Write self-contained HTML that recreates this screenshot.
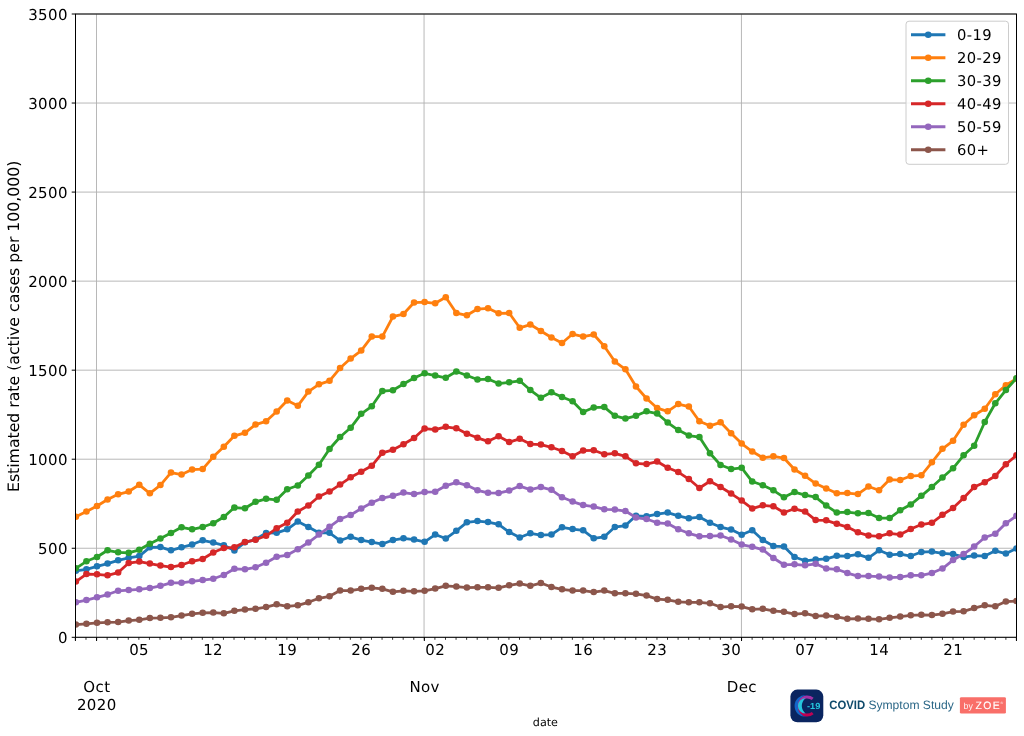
<!DOCTYPE html>
<html lang="en"><head><meta charset="utf-8"><title>Estimated rate by age group</title>
<style>html,body{margin:0;padding:0;background:#fff;}body{width:1024px;height:736px;overflow:hidden;}svg{display:block;}text{font-family:"DejaVu Sans","Liberation Sans",sans-serif;fill:#000;text-rendering:geometricPrecision;}.t{font-size:15.00px;letter-spacing:0.4px;}.logo{font-family:"Liberation Sans","DejaVu Sans",sans-serif;}</style></head><body>
<svg width="1024" height="736" viewBox="0 0 1024 736">
<rect x="0" y="0" width="1024" height="736" fill="#ffffff"/>
<g stroke="#b0b0b0" stroke-width="0.9" fill="none">
<line x1="75.42" x2="1016.45" y1="637.30" y2="637.30"/>
<line x1="75.42" x2="1016.45" y1="548.26" y2="548.26"/>
<line x1="75.42" x2="1016.45" y1="459.21" y2="459.21"/>
<line x1="75.42" x2="1016.45" y1="370.17" y2="370.17"/>
<line x1="75.42" x2="1016.45" y1="281.13" y2="281.13"/>
<line x1="75.42" x2="1016.45" y1="192.09" y2="192.09"/>
<line x1="75.42" x2="1016.45" y1="103.04" y2="103.04"/>
<line x1="75.42" x2="1016.45" y1="14.00" y2="14.00"/>
<line x1="96.50" x2="96.50" y1="14.00" y2="637.30"/>
<line x1="424.05" x2="424.05" y1="14.00" y2="637.30"/>
<line x1="741.45" x2="741.45" y1="14.00" y2="637.30"/>
</g>
<defs><clipPath id="ax"><rect x="75.42" y="14.00" width="941.03" height="623.30"/></clipPath></defs>
<g clip-path="url(#ax)">
<g fill="#1f77b4" stroke="none">
<polyline points="75.87,570.80 86.44,569.30 97.01,566.30 107.57,563.55 118.14,560.30 128.71,557.80 139.28,556.05 149.85,547.30 160.42,547.05 170.98,550.30 181.55,547.30 192.12,544.55 202.69,540.30 213.26,542.55 223.83,545.30 234.39,550.55 244.96,542.30 255.53,539.55 266.10,533.05 276.67,532.80 287.24,529.30 297.80,521.55 308.37,527.05 318.94,532.80 329.51,532.80 340.08,540.55 350.65,536.80 361.21,540.05 371.78,542.05 382.35,544.05 392.92,540.05 403.49,538.30 414.06,539.55 424.62,541.80 435.19,534.55 445.76,538.55 456.33,530.80 466.90,522.30 477.47,521.05 488.03,522.05 498.60,524.30 509.17,532.05 519.74,537.55 530.31,533.30 540.88,535.05 551.44,534.55 562.01,527.30 572.58,529.05 583.15,530.30 593.72,538.30 604.29,536.80 614.85,527.05 625.42,525.55 635.99,515.80 646.56,516.30 657.13,514.05 667.70,512.55 678.26,515.80 688.83,518.30 699.40,517.05 709.97,522.80 720.54,527.05 731.11,529.55 741.67,534.80 752.24,530.30 762.81,540.05 773.38,546.05 783.95,546.55 794.52,557.05 805.08,560.80 815.65,559.55 826.22,558.80 836.79,555.80 847.36,556.05 857.93,554.30 868.49,557.80 879.06,550.30 889.63,554.80 900.20,554.05 910.77,556.05 921.34,552.05 931.90,551.55 942.47,553.30 953.04,554.05 963.61,557.05 974.18,555.55 984.75,556.05 995.31,550.80 1005.88,553.55 1016.45,548.55" fill="none" stroke="#1f77b4" stroke-width="2.80" stroke-linejoin="round" stroke-linecap="butt"/>
<circle cx="75.87" cy="570.80" r="3.30"/>
<circle cx="86.44" cy="569.30" r="3.30"/>
<circle cx="97.01" cy="566.30" r="3.30"/>
<circle cx="107.57" cy="563.55" r="3.30"/>
<circle cx="118.14" cy="560.30" r="3.30"/>
<circle cx="128.71" cy="557.80" r="3.30"/>
<circle cx="139.28" cy="556.05" r="3.30"/>
<circle cx="149.85" cy="547.30" r="3.30"/>
<circle cx="160.42" cy="547.05" r="3.30"/>
<circle cx="170.98" cy="550.30" r="3.30"/>
<circle cx="181.55" cy="547.30" r="3.30"/>
<circle cx="192.12" cy="544.55" r="3.30"/>
<circle cx="202.69" cy="540.30" r="3.30"/>
<circle cx="213.26" cy="542.55" r="3.30"/>
<circle cx="223.83" cy="545.30" r="3.30"/>
<circle cx="234.39" cy="550.55" r="3.30"/>
<circle cx="244.96" cy="542.30" r="3.30"/>
<circle cx="255.53" cy="539.55" r="3.30"/>
<circle cx="266.10" cy="533.05" r="3.30"/>
<circle cx="276.67" cy="532.80" r="3.30"/>
<circle cx="287.24" cy="529.30" r="3.30"/>
<circle cx="297.80" cy="521.55" r="3.30"/>
<circle cx="308.37" cy="527.05" r="3.30"/>
<circle cx="318.94" cy="532.80" r="3.30"/>
<circle cx="329.51" cy="532.80" r="3.30"/>
<circle cx="340.08" cy="540.55" r="3.30"/>
<circle cx="350.65" cy="536.80" r="3.30"/>
<circle cx="361.21" cy="540.05" r="3.30"/>
<circle cx="371.78" cy="542.05" r="3.30"/>
<circle cx="382.35" cy="544.05" r="3.30"/>
<circle cx="392.92" cy="540.05" r="3.30"/>
<circle cx="403.49" cy="538.30" r="3.30"/>
<circle cx="414.06" cy="539.55" r="3.30"/>
<circle cx="424.62" cy="541.80" r="3.30"/>
<circle cx="435.19" cy="534.55" r="3.30"/>
<circle cx="445.76" cy="538.55" r="3.30"/>
<circle cx="456.33" cy="530.80" r="3.30"/>
<circle cx="466.90" cy="522.30" r="3.30"/>
<circle cx="477.47" cy="521.05" r="3.30"/>
<circle cx="488.03" cy="522.05" r="3.30"/>
<circle cx="498.60" cy="524.30" r="3.30"/>
<circle cx="509.17" cy="532.05" r="3.30"/>
<circle cx="519.74" cy="537.55" r="3.30"/>
<circle cx="530.31" cy="533.30" r="3.30"/>
<circle cx="540.88" cy="535.05" r="3.30"/>
<circle cx="551.44" cy="534.55" r="3.30"/>
<circle cx="562.01" cy="527.30" r="3.30"/>
<circle cx="572.58" cy="529.05" r="3.30"/>
<circle cx="583.15" cy="530.30" r="3.30"/>
<circle cx="593.72" cy="538.30" r="3.30"/>
<circle cx="604.29" cy="536.80" r="3.30"/>
<circle cx="614.85" cy="527.05" r="3.30"/>
<circle cx="625.42" cy="525.55" r="3.30"/>
<circle cx="635.99" cy="515.80" r="3.30"/>
<circle cx="646.56" cy="516.30" r="3.30"/>
<circle cx="657.13" cy="514.05" r="3.30"/>
<circle cx="667.70" cy="512.55" r="3.30"/>
<circle cx="678.26" cy="515.80" r="3.30"/>
<circle cx="688.83" cy="518.30" r="3.30"/>
<circle cx="699.40" cy="517.05" r="3.30"/>
<circle cx="709.97" cy="522.80" r="3.30"/>
<circle cx="720.54" cy="527.05" r="3.30"/>
<circle cx="731.11" cy="529.55" r="3.30"/>
<circle cx="741.67" cy="534.80" r="3.30"/>
<circle cx="752.24" cy="530.30" r="3.30"/>
<circle cx="762.81" cy="540.05" r="3.30"/>
<circle cx="773.38" cy="546.05" r="3.30"/>
<circle cx="783.95" cy="546.55" r="3.30"/>
<circle cx="794.52" cy="557.05" r="3.30"/>
<circle cx="805.08" cy="560.80" r="3.30"/>
<circle cx="815.65" cy="559.55" r="3.30"/>
<circle cx="826.22" cy="558.80" r="3.30"/>
<circle cx="836.79" cy="555.80" r="3.30"/>
<circle cx="847.36" cy="556.05" r="3.30"/>
<circle cx="857.93" cy="554.30" r="3.30"/>
<circle cx="868.49" cy="557.80" r="3.30"/>
<circle cx="879.06" cy="550.30" r="3.30"/>
<circle cx="889.63" cy="554.80" r="3.30"/>
<circle cx="900.20" cy="554.05" r="3.30"/>
<circle cx="910.77" cy="556.05" r="3.30"/>
<circle cx="921.34" cy="552.05" r="3.30"/>
<circle cx="931.90" cy="551.55" r="3.30"/>
<circle cx="942.47" cy="553.30" r="3.30"/>
<circle cx="953.04" cy="554.05" r="3.30"/>
<circle cx="963.61" cy="557.05" r="3.30"/>
<circle cx="974.18" cy="555.55" r="3.30"/>
<circle cx="984.75" cy="556.05" r="3.30"/>
<circle cx="995.31" cy="550.80" r="3.30"/>
<circle cx="1005.88" cy="553.55" r="3.30"/>
<circle cx="1016.45" cy="548.55" r="3.30"/>
</g>
<g fill="#ff7f0e" stroke="none">
<polyline points="75.87,516.80 86.44,511.55 97.01,506.05 107.57,499.55 118.14,494.30 128.71,491.55 139.28,484.80 149.85,493.30 160.42,485.05 170.98,472.55 181.55,474.55 192.12,469.55 202.69,469.05 213.26,456.80 223.83,446.80 234.39,435.80 244.96,432.80 255.53,424.55 266.10,421.30 276.67,411.55 287.24,400.55 297.80,405.80 308.37,391.55 318.94,384.30 329.51,380.80 340.08,368.05 350.65,358.55 361.21,350.55 371.78,336.55 382.35,336.55 392.92,316.55 403.49,314.05 414.06,302.55 424.62,302.05 435.19,303.30 445.76,297.30 456.33,313.05 466.90,315.30 477.47,309.05 488.03,308.30 498.60,313.30 509.17,313.05 519.74,327.80 530.31,324.55 540.88,331.05 551.44,337.55 562.01,343.05 572.58,334.05 583.15,336.55 593.72,334.55 604.29,346.30 614.85,361.55 625.42,369.30 635.99,386.55 646.56,398.55 657.13,408.05 667.70,411.30 678.26,404.05 688.83,406.55 699.40,421.30 709.97,425.80 720.54,422.30 731.11,433.30 741.67,443.55 752.24,451.55 762.81,457.80 773.38,456.30 783.95,458.05 794.52,469.55 805.08,475.80 815.65,483.55 826.22,488.55 836.79,493.30 847.36,493.05 857.93,494.05 868.49,486.55 879.06,490.30 889.63,479.55 900.20,480.05 910.77,476.05 921.34,475.30 931.90,462.30 942.47,448.80 953.04,440.80 963.61,424.80 974.18,415.30 984.75,408.80 995.31,394.30 1005.88,385.30 1016.45,378.80" fill="none" stroke="#ff7f0e" stroke-width="2.80" stroke-linejoin="round" stroke-linecap="butt"/>
<circle cx="75.87" cy="516.80" r="3.30"/>
<circle cx="86.44" cy="511.55" r="3.30"/>
<circle cx="97.01" cy="506.05" r="3.30"/>
<circle cx="107.57" cy="499.55" r="3.30"/>
<circle cx="118.14" cy="494.30" r="3.30"/>
<circle cx="128.71" cy="491.55" r="3.30"/>
<circle cx="139.28" cy="484.80" r="3.30"/>
<circle cx="149.85" cy="493.30" r="3.30"/>
<circle cx="160.42" cy="485.05" r="3.30"/>
<circle cx="170.98" cy="472.55" r="3.30"/>
<circle cx="181.55" cy="474.55" r="3.30"/>
<circle cx="192.12" cy="469.55" r="3.30"/>
<circle cx="202.69" cy="469.05" r="3.30"/>
<circle cx="213.26" cy="456.80" r="3.30"/>
<circle cx="223.83" cy="446.80" r="3.30"/>
<circle cx="234.39" cy="435.80" r="3.30"/>
<circle cx="244.96" cy="432.80" r="3.30"/>
<circle cx="255.53" cy="424.55" r="3.30"/>
<circle cx="266.10" cy="421.30" r="3.30"/>
<circle cx="276.67" cy="411.55" r="3.30"/>
<circle cx="287.24" cy="400.55" r="3.30"/>
<circle cx="297.80" cy="405.80" r="3.30"/>
<circle cx="308.37" cy="391.55" r="3.30"/>
<circle cx="318.94" cy="384.30" r="3.30"/>
<circle cx="329.51" cy="380.80" r="3.30"/>
<circle cx="340.08" cy="368.05" r="3.30"/>
<circle cx="350.65" cy="358.55" r="3.30"/>
<circle cx="361.21" cy="350.55" r="3.30"/>
<circle cx="371.78" cy="336.55" r="3.30"/>
<circle cx="382.35" cy="336.55" r="3.30"/>
<circle cx="392.92" cy="316.55" r="3.30"/>
<circle cx="403.49" cy="314.05" r="3.30"/>
<circle cx="414.06" cy="302.55" r="3.30"/>
<circle cx="424.62" cy="302.05" r="3.30"/>
<circle cx="435.19" cy="303.30" r="3.30"/>
<circle cx="445.76" cy="297.30" r="3.30"/>
<circle cx="456.33" cy="313.05" r="3.30"/>
<circle cx="466.90" cy="315.30" r="3.30"/>
<circle cx="477.47" cy="309.05" r="3.30"/>
<circle cx="488.03" cy="308.30" r="3.30"/>
<circle cx="498.60" cy="313.30" r="3.30"/>
<circle cx="509.17" cy="313.05" r="3.30"/>
<circle cx="519.74" cy="327.80" r="3.30"/>
<circle cx="530.31" cy="324.55" r="3.30"/>
<circle cx="540.88" cy="331.05" r="3.30"/>
<circle cx="551.44" cy="337.55" r="3.30"/>
<circle cx="562.01" cy="343.05" r="3.30"/>
<circle cx="572.58" cy="334.05" r="3.30"/>
<circle cx="583.15" cy="336.55" r="3.30"/>
<circle cx="593.72" cy="334.55" r="3.30"/>
<circle cx="604.29" cy="346.30" r="3.30"/>
<circle cx="614.85" cy="361.55" r="3.30"/>
<circle cx="625.42" cy="369.30" r="3.30"/>
<circle cx="635.99" cy="386.55" r="3.30"/>
<circle cx="646.56" cy="398.55" r="3.30"/>
<circle cx="657.13" cy="408.05" r="3.30"/>
<circle cx="667.70" cy="411.30" r="3.30"/>
<circle cx="678.26" cy="404.05" r="3.30"/>
<circle cx="688.83" cy="406.55" r="3.30"/>
<circle cx="699.40" cy="421.30" r="3.30"/>
<circle cx="709.97" cy="425.80" r="3.30"/>
<circle cx="720.54" cy="422.30" r="3.30"/>
<circle cx="731.11" cy="433.30" r="3.30"/>
<circle cx="741.67" cy="443.55" r="3.30"/>
<circle cx="752.24" cy="451.55" r="3.30"/>
<circle cx="762.81" cy="457.80" r="3.30"/>
<circle cx="773.38" cy="456.30" r="3.30"/>
<circle cx="783.95" cy="458.05" r="3.30"/>
<circle cx="794.52" cy="469.55" r="3.30"/>
<circle cx="805.08" cy="475.80" r="3.30"/>
<circle cx="815.65" cy="483.55" r="3.30"/>
<circle cx="826.22" cy="488.55" r="3.30"/>
<circle cx="836.79" cy="493.30" r="3.30"/>
<circle cx="847.36" cy="493.05" r="3.30"/>
<circle cx="857.93" cy="494.05" r="3.30"/>
<circle cx="868.49" cy="486.55" r="3.30"/>
<circle cx="879.06" cy="490.30" r="3.30"/>
<circle cx="889.63" cy="479.55" r="3.30"/>
<circle cx="900.20" cy="480.05" r="3.30"/>
<circle cx="910.77" cy="476.05" r="3.30"/>
<circle cx="921.34" cy="475.30" r="3.30"/>
<circle cx="931.90" cy="462.30" r="3.30"/>
<circle cx="942.47" cy="448.80" r="3.30"/>
<circle cx="953.04" cy="440.80" r="3.30"/>
<circle cx="963.61" cy="424.80" r="3.30"/>
<circle cx="974.18" cy="415.30" r="3.30"/>
<circle cx="984.75" cy="408.80" r="3.30"/>
<circle cx="995.31" cy="394.30" r="3.30"/>
<circle cx="1005.88" cy="385.30" r="3.30"/>
<circle cx="1016.45" cy="378.80" r="3.30"/>
</g>
<g fill="#2ca02c" stroke="none">
<polyline points="75.87,568.30 86.44,561.30 97.01,557.05 107.57,550.30 118.14,552.30 128.71,552.80 139.28,549.80 149.85,543.80 160.42,538.55 170.98,533.05 181.55,527.30 192.12,529.30 202.69,527.05 213.26,523.30 223.83,517.05 234.39,507.55 244.96,508.30 255.53,501.80 266.10,498.80 276.67,499.80 287.24,489.30 297.80,485.55 308.37,475.55 318.94,464.80 329.51,449.05 340.08,437.05 350.65,427.80 361.21,413.80 371.78,406.30 382.35,391.05 392.92,390.30 403.49,384.05 414.06,378.05 424.62,373.30 435.19,375.55 445.76,377.80 456.33,371.55 466.90,375.55 477.47,379.55 488.03,379.05 498.60,383.55 509.17,382.30 519.74,380.80 530.31,390.05 540.88,397.80 551.44,392.30 562.01,397.05 572.58,401.30 583.15,412.05 593.72,407.55 604.29,407.05 614.85,415.80 625.42,418.55 635.99,415.80 646.56,411.30 657.13,413.55 667.70,422.55 678.26,430.05 688.83,435.55 699.40,437.05 709.97,453.30 720.54,465.05 731.11,469.05 741.67,467.80 752.24,481.55 762.81,485.30 773.38,490.30 783.95,497.30 794.52,492.05 805.08,495.05 815.65,497.05 826.22,505.55 836.79,512.55 847.36,512.05 857.93,513.30 868.49,513.05 879.06,518.05 889.63,518.05 900.20,510.30 910.77,504.55 921.34,495.80 931.90,487.05 942.47,477.55 953.04,468.30 963.61,455.30 974.18,445.80 984.75,422.05 995.31,403.30 1005.88,390.05 1016.45,378.30" fill="none" stroke="#2ca02c" stroke-width="2.80" stroke-linejoin="round" stroke-linecap="butt"/>
<circle cx="75.87" cy="568.30" r="3.30"/>
<circle cx="86.44" cy="561.30" r="3.30"/>
<circle cx="97.01" cy="557.05" r="3.30"/>
<circle cx="107.57" cy="550.30" r="3.30"/>
<circle cx="118.14" cy="552.30" r="3.30"/>
<circle cx="128.71" cy="552.80" r="3.30"/>
<circle cx="139.28" cy="549.80" r="3.30"/>
<circle cx="149.85" cy="543.80" r="3.30"/>
<circle cx="160.42" cy="538.55" r="3.30"/>
<circle cx="170.98" cy="533.05" r="3.30"/>
<circle cx="181.55" cy="527.30" r="3.30"/>
<circle cx="192.12" cy="529.30" r="3.30"/>
<circle cx="202.69" cy="527.05" r="3.30"/>
<circle cx="213.26" cy="523.30" r="3.30"/>
<circle cx="223.83" cy="517.05" r="3.30"/>
<circle cx="234.39" cy="507.55" r="3.30"/>
<circle cx="244.96" cy="508.30" r="3.30"/>
<circle cx="255.53" cy="501.80" r="3.30"/>
<circle cx="266.10" cy="498.80" r="3.30"/>
<circle cx="276.67" cy="499.80" r="3.30"/>
<circle cx="287.24" cy="489.30" r="3.30"/>
<circle cx="297.80" cy="485.55" r="3.30"/>
<circle cx="308.37" cy="475.55" r="3.30"/>
<circle cx="318.94" cy="464.80" r="3.30"/>
<circle cx="329.51" cy="449.05" r="3.30"/>
<circle cx="340.08" cy="437.05" r="3.30"/>
<circle cx="350.65" cy="427.80" r="3.30"/>
<circle cx="361.21" cy="413.80" r="3.30"/>
<circle cx="371.78" cy="406.30" r="3.30"/>
<circle cx="382.35" cy="391.05" r="3.30"/>
<circle cx="392.92" cy="390.30" r="3.30"/>
<circle cx="403.49" cy="384.05" r="3.30"/>
<circle cx="414.06" cy="378.05" r="3.30"/>
<circle cx="424.62" cy="373.30" r="3.30"/>
<circle cx="435.19" cy="375.55" r="3.30"/>
<circle cx="445.76" cy="377.80" r="3.30"/>
<circle cx="456.33" cy="371.55" r="3.30"/>
<circle cx="466.90" cy="375.55" r="3.30"/>
<circle cx="477.47" cy="379.55" r="3.30"/>
<circle cx="488.03" cy="379.05" r="3.30"/>
<circle cx="498.60" cy="383.55" r="3.30"/>
<circle cx="509.17" cy="382.30" r="3.30"/>
<circle cx="519.74" cy="380.80" r="3.30"/>
<circle cx="530.31" cy="390.05" r="3.30"/>
<circle cx="540.88" cy="397.80" r="3.30"/>
<circle cx="551.44" cy="392.30" r="3.30"/>
<circle cx="562.01" cy="397.05" r="3.30"/>
<circle cx="572.58" cy="401.30" r="3.30"/>
<circle cx="583.15" cy="412.05" r="3.30"/>
<circle cx="593.72" cy="407.55" r="3.30"/>
<circle cx="604.29" cy="407.05" r="3.30"/>
<circle cx="614.85" cy="415.80" r="3.30"/>
<circle cx="625.42" cy="418.55" r="3.30"/>
<circle cx="635.99" cy="415.80" r="3.30"/>
<circle cx="646.56" cy="411.30" r="3.30"/>
<circle cx="657.13" cy="413.55" r="3.30"/>
<circle cx="667.70" cy="422.55" r="3.30"/>
<circle cx="678.26" cy="430.05" r="3.30"/>
<circle cx="688.83" cy="435.55" r="3.30"/>
<circle cx="699.40" cy="437.05" r="3.30"/>
<circle cx="709.97" cy="453.30" r="3.30"/>
<circle cx="720.54" cy="465.05" r="3.30"/>
<circle cx="731.11" cy="469.05" r="3.30"/>
<circle cx="741.67" cy="467.80" r="3.30"/>
<circle cx="752.24" cy="481.55" r="3.30"/>
<circle cx="762.81" cy="485.30" r="3.30"/>
<circle cx="773.38" cy="490.30" r="3.30"/>
<circle cx="783.95" cy="497.30" r="3.30"/>
<circle cx="794.52" cy="492.05" r="3.30"/>
<circle cx="805.08" cy="495.05" r="3.30"/>
<circle cx="815.65" cy="497.05" r="3.30"/>
<circle cx="826.22" cy="505.55" r="3.30"/>
<circle cx="836.79" cy="512.55" r="3.30"/>
<circle cx="847.36" cy="512.05" r="3.30"/>
<circle cx="857.93" cy="513.30" r="3.30"/>
<circle cx="868.49" cy="513.05" r="3.30"/>
<circle cx="879.06" cy="518.05" r="3.30"/>
<circle cx="889.63" cy="518.05" r="3.30"/>
<circle cx="900.20" cy="510.30" r="3.30"/>
<circle cx="910.77" cy="504.55" r="3.30"/>
<circle cx="921.34" cy="495.80" r="3.30"/>
<circle cx="931.90" cy="487.05" r="3.30"/>
<circle cx="942.47" cy="477.55" r="3.30"/>
<circle cx="953.04" cy="468.30" r="3.30"/>
<circle cx="963.61" cy="455.30" r="3.30"/>
<circle cx="974.18" cy="445.80" r="3.30"/>
<circle cx="984.75" cy="422.05" r="3.30"/>
<circle cx="995.31" cy="403.30" r="3.30"/>
<circle cx="1005.88" cy="390.05" r="3.30"/>
<circle cx="1016.45" cy="378.30" r="3.30"/>
</g>
<g fill="#d62728" stroke="none">
<polyline points="75.87,581.55 86.44,574.05 97.01,574.30 107.57,575.30 118.14,572.55 128.71,563.05 139.28,561.55 149.85,563.55 160.42,565.55 170.98,567.05 181.55,565.05 192.12,561.30 202.69,559.05 213.26,552.55 223.83,548.05 234.39,547.30 244.96,542.05 255.53,539.80 266.10,535.80 276.67,528.30 287.24,522.80 297.80,511.55 308.37,505.55 318.94,496.55 329.51,491.55 340.08,484.55 350.65,477.30 361.21,471.80 371.78,465.80 382.35,452.80 392.92,449.80 403.49,444.30 414.06,438.05 424.62,428.55 435.19,429.55 445.76,426.80 456.33,428.30 466.90,433.80 477.47,437.80 488.03,441.30 498.60,436.30 509.17,442.05 519.74,438.80 530.31,444.05 540.88,444.55 551.44,447.30 562.01,451.05 572.58,456.30 583.15,450.55 593.72,450.30 604.29,454.30 614.85,453.30 625.42,456.30 635.99,463.30 646.56,464.05 657.13,461.55 667.70,467.80 678.26,472.05 688.83,479.05 699.40,488.05 709.97,481.30 720.54,487.05 731.11,493.55 741.67,500.55 752.24,508.55 762.81,505.30 773.38,506.30 783.95,512.55 794.52,508.80 805.08,511.55 815.65,520.05 826.22,520.30 836.79,523.80 847.36,527.05 857.93,532.30 868.49,535.55 879.06,536.30 889.63,533.30 900.20,534.55 910.77,529.05 921.34,524.55 931.90,522.80 942.47,514.80 953.04,508.05 963.61,498.05 974.18,487.05 984.75,482.30 995.31,476.05 1005.88,464.30 1016.45,455.30" fill="none" stroke="#d62728" stroke-width="2.80" stroke-linejoin="round" stroke-linecap="butt"/>
<circle cx="75.87" cy="581.55" r="3.30"/>
<circle cx="86.44" cy="574.05" r="3.30"/>
<circle cx="97.01" cy="574.30" r="3.30"/>
<circle cx="107.57" cy="575.30" r="3.30"/>
<circle cx="118.14" cy="572.55" r="3.30"/>
<circle cx="128.71" cy="563.05" r="3.30"/>
<circle cx="139.28" cy="561.55" r="3.30"/>
<circle cx="149.85" cy="563.55" r="3.30"/>
<circle cx="160.42" cy="565.55" r="3.30"/>
<circle cx="170.98" cy="567.05" r="3.30"/>
<circle cx="181.55" cy="565.05" r="3.30"/>
<circle cx="192.12" cy="561.30" r="3.30"/>
<circle cx="202.69" cy="559.05" r="3.30"/>
<circle cx="213.26" cy="552.55" r="3.30"/>
<circle cx="223.83" cy="548.05" r="3.30"/>
<circle cx="234.39" cy="547.30" r="3.30"/>
<circle cx="244.96" cy="542.05" r="3.30"/>
<circle cx="255.53" cy="539.80" r="3.30"/>
<circle cx="266.10" cy="535.80" r="3.30"/>
<circle cx="276.67" cy="528.30" r="3.30"/>
<circle cx="287.24" cy="522.80" r="3.30"/>
<circle cx="297.80" cy="511.55" r="3.30"/>
<circle cx="308.37" cy="505.55" r="3.30"/>
<circle cx="318.94" cy="496.55" r="3.30"/>
<circle cx="329.51" cy="491.55" r="3.30"/>
<circle cx="340.08" cy="484.55" r="3.30"/>
<circle cx="350.65" cy="477.30" r="3.30"/>
<circle cx="361.21" cy="471.80" r="3.30"/>
<circle cx="371.78" cy="465.80" r="3.30"/>
<circle cx="382.35" cy="452.80" r="3.30"/>
<circle cx="392.92" cy="449.80" r="3.30"/>
<circle cx="403.49" cy="444.30" r="3.30"/>
<circle cx="414.06" cy="438.05" r="3.30"/>
<circle cx="424.62" cy="428.55" r="3.30"/>
<circle cx="435.19" cy="429.55" r="3.30"/>
<circle cx="445.76" cy="426.80" r="3.30"/>
<circle cx="456.33" cy="428.30" r="3.30"/>
<circle cx="466.90" cy="433.80" r="3.30"/>
<circle cx="477.47" cy="437.80" r="3.30"/>
<circle cx="488.03" cy="441.30" r="3.30"/>
<circle cx="498.60" cy="436.30" r="3.30"/>
<circle cx="509.17" cy="442.05" r="3.30"/>
<circle cx="519.74" cy="438.80" r="3.30"/>
<circle cx="530.31" cy="444.05" r="3.30"/>
<circle cx="540.88" cy="444.55" r="3.30"/>
<circle cx="551.44" cy="447.30" r="3.30"/>
<circle cx="562.01" cy="451.05" r="3.30"/>
<circle cx="572.58" cy="456.30" r="3.30"/>
<circle cx="583.15" cy="450.55" r="3.30"/>
<circle cx="593.72" cy="450.30" r="3.30"/>
<circle cx="604.29" cy="454.30" r="3.30"/>
<circle cx="614.85" cy="453.30" r="3.30"/>
<circle cx="625.42" cy="456.30" r="3.30"/>
<circle cx="635.99" cy="463.30" r="3.30"/>
<circle cx="646.56" cy="464.05" r="3.30"/>
<circle cx="657.13" cy="461.55" r="3.30"/>
<circle cx="667.70" cy="467.80" r="3.30"/>
<circle cx="678.26" cy="472.05" r="3.30"/>
<circle cx="688.83" cy="479.05" r="3.30"/>
<circle cx="699.40" cy="488.05" r="3.30"/>
<circle cx="709.97" cy="481.30" r="3.30"/>
<circle cx="720.54" cy="487.05" r="3.30"/>
<circle cx="731.11" cy="493.55" r="3.30"/>
<circle cx="741.67" cy="500.55" r="3.30"/>
<circle cx="752.24" cy="508.55" r="3.30"/>
<circle cx="762.81" cy="505.30" r="3.30"/>
<circle cx="773.38" cy="506.30" r="3.30"/>
<circle cx="783.95" cy="512.55" r="3.30"/>
<circle cx="794.52" cy="508.80" r="3.30"/>
<circle cx="805.08" cy="511.55" r="3.30"/>
<circle cx="815.65" cy="520.05" r="3.30"/>
<circle cx="826.22" cy="520.30" r="3.30"/>
<circle cx="836.79" cy="523.80" r="3.30"/>
<circle cx="847.36" cy="527.05" r="3.30"/>
<circle cx="857.93" cy="532.30" r="3.30"/>
<circle cx="868.49" cy="535.55" r="3.30"/>
<circle cx="879.06" cy="536.30" r="3.30"/>
<circle cx="889.63" cy="533.30" r="3.30"/>
<circle cx="900.20" cy="534.55" r="3.30"/>
<circle cx="910.77" cy="529.05" r="3.30"/>
<circle cx="921.34" cy="524.55" r="3.30"/>
<circle cx="931.90" cy="522.80" r="3.30"/>
<circle cx="942.47" cy="514.80" r="3.30"/>
<circle cx="953.04" cy="508.05" r="3.30"/>
<circle cx="963.61" cy="498.05" r="3.30"/>
<circle cx="974.18" cy="487.05" r="3.30"/>
<circle cx="984.75" cy="482.30" r="3.30"/>
<circle cx="995.31" cy="476.05" r="3.30"/>
<circle cx="1005.88" cy="464.30" r="3.30"/>
<circle cx="1016.45" cy="455.30" r="3.30"/>
</g>
<g fill="#9467bd" stroke="none">
<polyline points="75.87,602.30 86.44,600.05 97.01,597.30 107.57,594.55 118.14,590.80 128.71,590.05 139.28,589.30 149.85,588.05 160.42,585.80 170.98,582.80 181.55,582.80 192.12,581.30 202.69,580.05 213.26,578.80 223.83,575.05 234.39,568.80 244.96,569.30 255.53,567.30 266.10,562.80 276.67,556.80 287.24,555.05 297.80,549.30 308.37,542.55 318.94,534.55 329.51,526.80 340.08,519.05 350.65,515.05 361.21,508.55 371.78,502.80 382.35,498.05 392.92,495.80 403.49,492.55 414.06,494.05 424.62,492.05 435.19,491.80 445.76,485.80 456.33,482.30 466.90,485.30 477.47,490.30 488.03,492.80 498.60,493.05 509.17,490.55 519.74,486.05 530.31,489.55 540.88,487.05 551.44,489.80 562.01,497.30 572.58,501.55 583.15,505.05 593.72,506.55 604.29,509.30 614.85,509.55 625.42,511.05 635.99,517.55 646.56,519.05 657.13,522.80 667.70,523.55 678.26,529.30 688.83,533.30 699.40,536.30 709.97,536.05 720.54,535.55 731.11,539.55 741.67,544.55 752.24,546.80 762.81,549.55 773.38,558.05 783.95,564.80 794.52,564.30 805.08,565.30 815.65,563.80 826.22,568.55 836.79,569.30 847.36,573.05 857.93,576.05 868.49,576.05 879.06,576.55 889.63,577.55 900.20,577.05 910.77,575.30 921.34,575.30 931.90,573.05 942.47,568.55 953.04,560.05 963.61,554.05 974.18,546.55 984.75,537.55 995.31,533.80 1005.88,523.30 1016.45,515.80" fill="none" stroke="#9467bd" stroke-width="2.80" stroke-linejoin="round" stroke-linecap="butt"/>
<circle cx="75.87" cy="602.30" r="3.30"/>
<circle cx="86.44" cy="600.05" r="3.30"/>
<circle cx="97.01" cy="597.30" r="3.30"/>
<circle cx="107.57" cy="594.55" r="3.30"/>
<circle cx="118.14" cy="590.80" r="3.30"/>
<circle cx="128.71" cy="590.05" r="3.30"/>
<circle cx="139.28" cy="589.30" r="3.30"/>
<circle cx="149.85" cy="588.05" r="3.30"/>
<circle cx="160.42" cy="585.80" r="3.30"/>
<circle cx="170.98" cy="582.80" r="3.30"/>
<circle cx="181.55" cy="582.80" r="3.30"/>
<circle cx="192.12" cy="581.30" r="3.30"/>
<circle cx="202.69" cy="580.05" r="3.30"/>
<circle cx="213.26" cy="578.80" r="3.30"/>
<circle cx="223.83" cy="575.05" r="3.30"/>
<circle cx="234.39" cy="568.80" r="3.30"/>
<circle cx="244.96" cy="569.30" r="3.30"/>
<circle cx="255.53" cy="567.30" r="3.30"/>
<circle cx="266.10" cy="562.80" r="3.30"/>
<circle cx="276.67" cy="556.80" r="3.30"/>
<circle cx="287.24" cy="555.05" r="3.30"/>
<circle cx="297.80" cy="549.30" r="3.30"/>
<circle cx="308.37" cy="542.55" r="3.30"/>
<circle cx="318.94" cy="534.55" r="3.30"/>
<circle cx="329.51" cy="526.80" r="3.30"/>
<circle cx="340.08" cy="519.05" r="3.30"/>
<circle cx="350.65" cy="515.05" r="3.30"/>
<circle cx="361.21" cy="508.55" r="3.30"/>
<circle cx="371.78" cy="502.80" r="3.30"/>
<circle cx="382.35" cy="498.05" r="3.30"/>
<circle cx="392.92" cy="495.80" r="3.30"/>
<circle cx="403.49" cy="492.55" r="3.30"/>
<circle cx="414.06" cy="494.05" r="3.30"/>
<circle cx="424.62" cy="492.05" r="3.30"/>
<circle cx="435.19" cy="491.80" r="3.30"/>
<circle cx="445.76" cy="485.80" r="3.30"/>
<circle cx="456.33" cy="482.30" r="3.30"/>
<circle cx="466.90" cy="485.30" r="3.30"/>
<circle cx="477.47" cy="490.30" r="3.30"/>
<circle cx="488.03" cy="492.80" r="3.30"/>
<circle cx="498.60" cy="493.05" r="3.30"/>
<circle cx="509.17" cy="490.55" r="3.30"/>
<circle cx="519.74" cy="486.05" r="3.30"/>
<circle cx="530.31" cy="489.55" r="3.30"/>
<circle cx="540.88" cy="487.05" r="3.30"/>
<circle cx="551.44" cy="489.80" r="3.30"/>
<circle cx="562.01" cy="497.30" r="3.30"/>
<circle cx="572.58" cy="501.55" r="3.30"/>
<circle cx="583.15" cy="505.05" r="3.30"/>
<circle cx="593.72" cy="506.55" r="3.30"/>
<circle cx="604.29" cy="509.30" r="3.30"/>
<circle cx="614.85" cy="509.55" r="3.30"/>
<circle cx="625.42" cy="511.05" r="3.30"/>
<circle cx="635.99" cy="517.55" r="3.30"/>
<circle cx="646.56" cy="519.05" r="3.30"/>
<circle cx="657.13" cy="522.80" r="3.30"/>
<circle cx="667.70" cy="523.55" r="3.30"/>
<circle cx="678.26" cy="529.30" r="3.30"/>
<circle cx="688.83" cy="533.30" r="3.30"/>
<circle cx="699.40" cy="536.30" r="3.30"/>
<circle cx="709.97" cy="536.05" r="3.30"/>
<circle cx="720.54" cy="535.55" r="3.30"/>
<circle cx="731.11" cy="539.55" r="3.30"/>
<circle cx="741.67" cy="544.55" r="3.30"/>
<circle cx="752.24" cy="546.80" r="3.30"/>
<circle cx="762.81" cy="549.55" r="3.30"/>
<circle cx="773.38" cy="558.05" r="3.30"/>
<circle cx="783.95" cy="564.80" r="3.30"/>
<circle cx="794.52" cy="564.30" r="3.30"/>
<circle cx="805.08" cy="565.30" r="3.30"/>
<circle cx="815.65" cy="563.80" r="3.30"/>
<circle cx="826.22" cy="568.55" r="3.30"/>
<circle cx="836.79" cy="569.30" r="3.30"/>
<circle cx="847.36" cy="573.05" r="3.30"/>
<circle cx="857.93" cy="576.05" r="3.30"/>
<circle cx="868.49" cy="576.05" r="3.30"/>
<circle cx="879.06" cy="576.55" r="3.30"/>
<circle cx="889.63" cy="577.55" r="3.30"/>
<circle cx="900.20" cy="577.05" r="3.30"/>
<circle cx="910.77" cy="575.30" r="3.30"/>
<circle cx="921.34" cy="575.30" r="3.30"/>
<circle cx="931.90" cy="573.05" r="3.30"/>
<circle cx="942.47" cy="568.55" r="3.30"/>
<circle cx="953.04" cy="560.05" r="3.30"/>
<circle cx="963.61" cy="554.05" r="3.30"/>
<circle cx="974.18" cy="546.55" r="3.30"/>
<circle cx="984.75" cy="537.55" r="3.30"/>
<circle cx="995.31" cy="533.80" r="3.30"/>
<circle cx="1005.88" cy="523.30" r="3.30"/>
<circle cx="1016.45" cy="515.80" r="3.30"/>
</g>
<g fill="#8c564b" stroke="none">
<polyline points="75.87,624.55 86.44,623.80 97.01,622.80 107.57,622.30 118.14,622.05 128.71,620.55 139.28,619.80 149.85,618.05 160.42,617.80 170.98,617.30 181.55,615.55 192.12,613.80 202.69,612.80 213.26,612.55 223.83,613.30 234.39,610.80 244.96,609.55 255.53,608.80 266.10,607.05 276.67,604.30 287.24,606.30 297.80,605.30 308.37,602.30 318.94,598.30 329.51,596.30 340.08,590.55 350.65,590.55 361.21,588.80 371.78,587.80 382.35,588.80 392.92,591.80 403.49,590.80 414.06,591.30 424.62,590.80 435.19,588.55 445.76,585.80 456.33,586.55 466.90,587.55 477.47,587.30 488.03,587.30 498.60,587.80 509.17,585.30 519.74,583.55 530.31,585.80 540.88,583.05 551.44,587.05 562.01,589.30 572.58,590.55 583.15,590.55 593.72,592.05 604.29,590.55 614.85,593.30 625.42,593.30 635.99,593.80 646.56,595.55 657.13,599.05 667.70,599.80 678.26,601.80 688.83,602.30 699.40,602.30 709.97,603.30 720.54,607.05 731.11,606.30 741.67,606.55 752.24,609.30 762.81,608.80 773.38,610.80 783.95,611.80 794.52,614.05 805.08,613.30 815.65,616.05 826.22,615.55 836.79,616.80 847.36,618.80 857.93,618.55 868.49,618.80 879.06,619.30 889.63,617.80 900.20,616.55 910.77,615.30 921.34,614.80 931.90,615.05 942.47,613.80 953.04,611.55 963.61,611.30 974.18,608.05 984.75,605.30 995.31,606.30 1005.88,601.55 1016.45,601.05" fill="none" stroke="#8c564b" stroke-width="2.80" stroke-linejoin="round" stroke-linecap="butt"/>
<circle cx="75.87" cy="624.55" r="3.30"/>
<circle cx="86.44" cy="623.80" r="3.30"/>
<circle cx="97.01" cy="622.80" r="3.30"/>
<circle cx="107.57" cy="622.30" r="3.30"/>
<circle cx="118.14" cy="622.05" r="3.30"/>
<circle cx="128.71" cy="620.55" r="3.30"/>
<circle cx="139.28" cy="619.80" r="3.30"/>
<circle cx="149.85" cy="618.05" r="3.30"/>
<circle cx="160.42" cy="617.80" r="3.30"/>
<circle cx="170.98" cy="617.30" r="3.30"/>
<circle cx="181.55" cy="615.55" r="3.30"/>
<circle cx="192.12" cy="613.80" r="3.30"/>
<circle cx="202.69" cy="612.80" r="3.30"/>
<circle cx="213.26" cy="612.55" r="3.30"/>
<circle cx="223.83" cy="613.30" r="3.30"/>
<circle cx="234.39" cy="610.80" r="3.30"/>
<circle cx="244.96" cy="609.55" r="3.30"/>
<circle cx="255.53" cy="608.80" r="3.30"/>
<circle cx="266.10" cy="607.05" r="3.30"/>
<circle cx="276.67" cy="604.30" r="3.30"/>
<circle cx="287.24" cy="606.30" r="3.30"/>
<circle cx="297.80" cy="605.30" r="3.30"/>
<circle cx="308.37" cy="602.30" r="3.30"/>
<circle cx="318.94" cy="598.30" r="3.30"/>
<circle cx="329.51" cy="596.30" r="3.30"/>
<circle cx="340.08" cy="590.55" r="3.30"/>
<circle cx="350.65" cy="590.55" r="3.30"/>
<circle cx="361.21" cy="588.80" r="3.30"/>
<circle cx="371.78" cy="587.80" r="3.30"/>
<circle cx="382.35" cy="588.80" r="3.30"/>
<circle cx="392.92" cy="591.80" r="3.30"/>
<circle cx="403.49" cy="590.80" r="3.30"/>
<circle cx="414.06" cy="591.30" r="3.30"/>
<circle cx="424.62" cy="590.80" r="3.30"/>
<circle cx="435.19" cy="588.55" r="3.30"/>
<circle cx="445.76" cy="585.80" r="3.30"/>
<circle cx="456.33" cy="586.55" r="3.30"/>
<circle cx="466.90" cy="587.55" r="3.30"/>
<circle cx="477.47" cy="587.30" r="3.30"/>
<circle cx="488.03" cy="587.30" r="3.30"/>
<circle cx="498.60" cy="587.80" r="3.30"/>
<circle cx="509.17" cy="585.30" r="3.30"/>
<circle cx="519.74" cy="583.55" r="3.30"/>
<circle cx="530.31" cy="585.80" r="3.30"/>
<circle cx="540.88" cy="583.05" r="3.30"/>
<circle cx="551.44" cy="587.05" r="3.30"/>
<circle cx="562.01" cy="589.30" r="3.30"/>
<circle cx="572.58" cy="590.55" r="3.30"/>
<circle cx="583.15" cy="590.55" r="3.30"/>
<circle cx="593.72" cy="592.05" r="3.30"/>
<circle cx="604.29" cy="590.55" r="3.30"/>
<circle cx="614.85" cy="593.30" r="3.30"/>
<circle cx="625.42" cy="593.30" r="3.30"/>
<circle cx="635.99" cy="593.80" r="3.30"/>
<circle cx="646.56" cy="595.55" r="3.30"/>
<circle cx="657.13" cy="599.05" r="3.30"/>
<circle cx="667.70" cy="599.80" r="3.30"/>
<circle cx="678.26" cy="601.80" r="3.30"/>
<circle cx="688.83" cy="602.30" r="3.30"/>
<circle cx="699.40" cy="602.30" r="3.30"/>
<circle cx="709.97" cy="603.30" r="3.30"/>
<circle cx="720.54" cy="607.05" r="3.30"/>
<circle cx="731.11" cy="606.30" r="3.30"/>
<circle cx="741.67" cy="606.55" r="3.30"/>
<circle cx="752.24" cy="609.30" r="3.30"/>
<circle cx="762.81" cy="608.80" r="3.30"/>
<circle cx="773.38" cy="610.80" r="3.30"/>
<circle cx="783.95" cy="611.80" r="3.30"/>
<circle cx="794.52" cy="614.05" r="3.30"/>
<circle cx="805.08" cy="613.30" r="3.30"/>
<circle cx="815.65" cy="616.05" r="3.30"/>
<circle cx="826.22" cy="615.55" r="3.30"/>
<circle cx="836.79" cy="616.80" r="3.30"/>
<circle cx="847.36" cy="618.80" r="3.30"/>
<circle cx="857.93" cy="618.55" r="3.30"/>
<circle cx="868.49" cy="618.80" r="3.30"/>
<circle cx="879.06" cy="619.30" r="3.30"/>
<circle cx="889.63" cy="617.80" r="3.30"/>
<circle cx="900.20" cy="616.55" r="3.30"/>
<circle cx="910.77" cy="615.30" r="3.30"/>
<circle cx="921.34" cy="614.80" r="3.30"/>
<circle cx="931.90" cy="615.05" r="3.30"/>
<circle cx="942.47" cy="613.80" r="3.30"/>
<circle cx="953.04" cy="611.55" r="3.30"/>
<circle cx="963.61" cy="611.30" r="3.30"/>
<circle cx="974.18" cy="608.05" r="3.30"/>
<circle cx="984.75" cy="605.30" r="3.30"/>
<circle cx="995.31" cy="606.30" r="3.30"/>
<circle cx="1005.88" cy="601.55" r="3.30"/>
<circle cx="1016.45" cy="601.05" r="3.30"/>
</g>
</g>
<rect x="75.50" y="14.00" width="941.00" height="623.30" fill="none" stroke="#000" stroke-width="1"/>
<g stroke="#000" stroke-width="1">
<line x1="71.72" x2="75.42" y1="637.30" y2="637.30"/>
<line x1="71.72" x2="75.42" y1="548.26" y2="548.26"/>
<line x1="71.72" x2="75.42" y1="459.21" y2="459.21"/>
<line x1="71.72" x2="75.42" y1="370.17" y2="370.17"/>
<line x1="71.72" x2="75.42" y1="281.13" y2="281.13"/>
<line x1="71.72" x2="75.42" y1="192.09" y2="192.09"/>
<line x1="71.72" x2="75.42" y1="103.04" y2="103.04"/>
<line x1="71.72" x2="75.42" y1="14.00" y2="14.00"/>
<line x1="75.42" x2="75.42" y1="637.30" y2="639.80" stroke-width="0.8"/>
<line x1="85.99" x2="85.99" y1="637.30" y2="639.80" stroke-width="0.8"/>
<line x1="96.57" x2="96.57" y1="637.30" y2="639.80" stroke-width="0.8"/>
<line x1="107.14" x2="107.14" y1="637.30" y2="639.80" stroke-width="0.8"/>
<line x1="117.71" x2="117.71" y1="637.30" y2="639.80" stroke-width="0.8"/>
<line x1="128.29" x2="128.29" y1="637.30" y2="639.80" stroke-width="0.8"/>
<line x1="138.86" x2="138.86" y1="637.30" y2="639.80" stroke-width="0.8"/>
<line x1="149.43" x2="149.43" y1="637.30" y2="639.80" stroke-width="0.8"/>
<line x1="160.01" x2="160.01" y1="637.30" y2="639.80" stroke-width="0.8"/>
<line x1="170.58" x2="170.58" y1="637.30" y2="639.80" stroke-width="0.8"/>
<line x1="181.15" x2="181.15" y1="637.30" y2="639.80" stroke-width="0.8"/>
<line x1="191.73" x2="191.73" y1="637.30" y2="639.80" stroke-width="0.8"/>
<line x1="202.30" x2="202.30" y1="637.30" y2="639.80" stroke-width="0.8"/>
<line x1="212.87" x2="212.87" y1="637.30" y2="639.80" stroke-width="0.8"/>
<line x1="223.45" x2="223.45" y1="637.30" y2="639.80" stroke-width="0.8"/>
<line x1="234.02" x2="234.02" y1="637.30" y2="639.80" stroke-width="0.8"/>
<line x1="244.59" x2="244.59" y1="637.30" y2="639.80" stroke-width="0.8"/>
<line x1="255.17" x2="255.17" y1="637.30" y2="639.80" stroke-width="0.8"/>
<line x1="265.74" x2="265.74" y1="637.30" y2="639.80" stroke-width="0.8"/>
<line x1="276.31" x2="276.31" y1="637.30" y2="639.80" stroke-width="0.8"/>
<line x1="286.89" x2="286.89" y1="637.30" y2="639.80" stroke-width="0.8"/>
<line x1="297.46" x2="297.46" y1="637.30" y2="639.80" stroke-width="0.8"/>
<line x1="308.03" x2="308.03" y1="637.30" y2="639.80" stroke-width="0.8"/>
<line x1="318.61" x2="318.61" y1="637.30" y2="639.80" stroke-width="0.8"/>
<line x1="329.18" x2="329.18" y1="637.30" y2="639.80" stroke-width="0.8"/>
<line x1="339.75" x2="339.75" y1="637.30" y2="639.80" stroke-width="0.8"/>
<line x1="350.33" x2="350.33" y1="637.30" y2="639.80" stroke-width="0.8"/>
<line x1="360.90" x2="360.90" y1="637.30" y2="639.80" stroke-width="0.8"/>
<line x1="371.47" x2="371.47" y1="637.30" y2="639.80" stroke-width="0.8"/>
<line x1="382.05" x2="382.05" y1="637.30" y2="639.80" stroke-width="0.8"/>
<line x1="392.62" x2="392.62" y1="637.30" y2="639.80" stroke-width="0.8"/>
<line x1="403.19" x2="403.19" y1="637.30" y2="639.80" stroke-width="0.8"/>
<line x1="413.77" x2="413.77" y1="637.30" y2="639.80" stroke-width="0.8"/>
<line x1="424.34" x2="424.34" y1="637.30" y2="639.80" stroke-width="0.8"/>
<line x1="434.91" x2="434.91" y1="637.30" y2="639.80" stroke-width="0.8"/>
<line x1="445.49" x2="445.49" y1="637.30" y2="639.80" stroke-width="0.8"/>
<line x1="456.06" x2="456.06" y1="637.30" y2="639.80" stroke-width="0.8"/>
<line x1="466.63" x2="466.63" y1="637.30" y2="639.80" stroke-width="0.8"/>
<line x1="477.21" x2="477.21" y1="637.30" y2="639.80" stroke-width="0.8"/>
<line x1="487.78" x2="487.78" y1="637.30" y2="639.80" stroke-width="0.8"/>
<line x1="498.35" x2="498.35" y1="637.30" y2="639.80" stroke-width="0.8"/>
<line x1="508.93" x2="508.93" y1="637.30" y2="639.80" stroke-width="0.8"/>
<line x1="519.50" x2="519.50" y1="637.30" y2="639.80" stroke-width="0.8"/>
<line x1="530.07" x2="530.07" y1="637.30" y2="639.80" stroke-width="0.8"/>
<line x1="540.65" x2="540.65" y1="637.30" y2="639.80" stroke-width="0.8"/>
<line x1="551.22" x2="551.22" y1="637.30" y2="639.80" stroke-width="0.8"/>
<line x1="561.80" x2="561.80" y1="637.30" y2="639.80" stroke-width="0.8"/>
<line x1="572.37" x2="572.37" y1="637.30" y2="639.80" stroke-width="0.8"/>
<line x1="582.94" x2="582.94" y1="637.30" y2="639.80" stroke-width="0.8"/>
<line x1="593.52" x2="593.52" y1="637.30" y2="639.80" stroke-width="0.8"/>
<line x1="604.09" x2="604.09" y1="637.30" y2="639.80" stroke-width="0.8"/>
<line x1="614.66" x2="614.66" y1="637.30" y2="639.80" stroke-width="0.8"/>
<line x1="625.24" x2="625.24" y1="637.30" y2="639.80" stroke-width="0.8"/>
<line x1="635.81" x2="635.81" y1="637.30" y2="639.80" stroke-width="0.8"/>
<line x1="646.38" x2="646.38" y1="637.30" y2="639.80" stroke-width="0.8"/>
<line x1="656.96" x2="656.96" y1="637.30" y2="639.80" stroke-width="0.8"/>
<line x1="667.53" x2="667.53" y1="637.30" y2="639.80" stroke-width="0.8"/>
<line x1="678.10" x2="678.10" y1="637.30" y2="639.80" stroke-width="0.8"/>
<line x1="688.68" x2="688.68" y1="637.30" y2="639.80" stroke-width="0.8"/>
<line x1="699.25" x2="699.25" y1="637.30" y2="639.80" stroke-width="0.8"/>
<line x1="709.82" x2="709.82" y1="637.30" y2="639.80" stroke-width="0.8"/>
<line x1="720.40" x2="720.40" y1="637.30" y2="639.80" stroke-width="0.8"/>
<line x1="730.97" x2="730.97" y1="637.30" y2="639.80" stroke-width="0.8"/>
<line x1="741.54" x2="741.54" y1="637.30" y2="639.80" stroke-width="0.8"/>
<line x1="752.12" x2="752.12" y1="637.30" y2="639.80" stroke-width="0.8"/>
<line x1="762.69" x2="762.69" y1="637.30" y2="639.80" stroke-width="0.8"/>
<line x1="773.26" x2="773.26" y1="637.30" y2="639.80" stroke-width="0.8"/>
<line x1="783.84" x2="783.84" y1="637.30" y2="639.80" stroke-width="0.8"/>
<line x1="794.41" x2="794.41" y1="637.30" y2="639.80" stroke-width="0.8"/>
<line x1="804.98" x2="804.98" y1="637.30" y2="639.80" stroke-width="0.8"/>
<line x1="815.56" x2="815.56" y1="637.30" y2="639.80" stroke-width="0.8"/>
<line x1="826.13" x2="826.13" y1="637.30" y2="639.80" stroke-width="0.8"/>
<line x1="836.70" x2="836.70" y1="637.30" y2="639.80" stroke-width="0.8"/>
<line x1="847.28" x2="847.28" y1="637.30" y2="639.80" stroke-width="0.8"/>
<line x1="857.85" x2="857.85" y1="637.30" y2="639.80" stroke-width="0.8"/>
<line x1="868.42" x2="868.42" y1="637.30" y2="639.80" stroke-width="0.8"/>
<line x1="879.00" x2="879.00" y1="637.30" y2="639.80" stroke-width="0.8"/>
<line x1="889.57" x2="889.57" y1="637.30" y2="639.80" stroke-width="0.8"/>
<line x1="900.14" x2="900.14" y1="637.30" y2="639.80" stroke-width="0.8"/>
<line x1="910.72" x2="910.72" y1="637.30" y2="639.80" stroke-width="0.8"/>
<line x1="921.29" x2="921.29" y1="637.30" y2="639.80" stroke-width="0.8"/>
<line x1="931.86" x2="931.86" y1="637.30" y2="639.80" stroke-width="0.8"/>
<line x1="942.44" x2="942.44" y1="637.30" y2="639.80" stroke-width="0.8"/>
<line x1="953.01" x2="953.01" y1="637.30" y2="639.80" stroke-width="0.8"/>
<line x1="963.58" x2="963.58" y1="637.30" y2="639.80" stroke-width="0.8"/>
<line x1="974.16" x2="974.16" y1="637.30" y2="639.80" stroke-width="0.8"/>
<line x1="984.73" x2="984.73" y1="637.30" y2="639.80" stroke-width="0.8"/>
<line x1="995.30" x2="995.30" y1="637.30" y2="639.80" stroke-width="0.8"/>
<line x1="1005.88" x2="1005.88" y1="637.30" y2="639.80" stroke-width="0.8"/>
<line x1="1016.45" x2="1016.45" y1="637.30" y2="639.80" stroke-width="0.8"/>
<line x1="75.42" x2="75.42" y1="637.30" y2="641.00"/>
<line x1="96.57" x2="96.57" y1="637.30" y2="641.00"/>
<line x1="424.34" x2="424.34" y1="637.30" y2="641.00"/>
<line x1="741.54" x2="741.54" y1="637.30" y2="641.00"/>
<line x1="1016.45" x2="1016.45" y1="637.30" y2="641.00"/>
</g>
<g class="t" text-anchor="end">
<text x="67.95" y="643.15">0</text>
<text x="67.95" y="554.11">500</text>
<text x="67.95" y="465.06">1000</text>
<text x="67.95" y="376.02">1500</text>
<text x="67.95" y="286.98">2000</text>
<text x="67.95" y="197.94">2500</text>
<text x="67.95" y="108.89">3000</text>
<text x="67.95" y="19.85">3500</text>
</g>
<g class="t" text-anchor="middle">
<text x="139.11" y="655.30">05</text>
<text x="213.12" y="655.30">12</text>
<text x="287.14" y="655.30">19</text>
<text x="361.15" y="655.30">26</text>
<text x="435.16" y="655.30">02</text>
<text x="509.18" y="655.30">09</text>
<text x="583.19" y="655.30">16</text>
<text x="657.21" y="655.30">23</text>
<text x="731.22" y="655.30">30</text>
<text x="805.23" y="655.30">07</text>
<text x="879.25" y="655.30">14</text>
<text x="953.26" y="655.30">21</text>
<text x="96.87" y="691.90">Oct</text>
<text x="424.64" y="691.90">Nov</text>
<text x="741.84" y="691.90">Dec</text>
<text x="96.77" y="710.00">2020</text>
</g>
<text x="545.4" y="725.9" text-anchor="middle" style="font-size:11.15px">date</text>
<text text-anchor="middle" transform="translate(19.2,326.3) rotate(-90)" style="font-size:15.71px">Estimated rate (active cases per 100,000)</text>
<rect x="906.00" y="21.20" width="102.50" height="143.10" rx="3" ry="3" fill="#fff" fill-opacity="0.8" stroke="#cccccc" stroke-width="1"/>
<line x1="911" x2="945.4" y1="34.75" y2="34.75" stroke="#1f77b4" stroke-width="2.80"/>
<circle cx="928.2" cy="34.75" r="3.30" fill="#1f77b4"/>
<text class="t" x="957.0" y="40.30" style="font-size:14.75px;letter-spacing:0.4px">0-19</text>
<line x1="911" x2="945.4" y1="57.75" y2="57.75" stroke="#ff7f0e" stroke-width="2.80"/>
<circle cx="928.2" cy="57.75" r="3.30" fill="#ff7f0e"/>
<text class="t" x="957.0" y="63.30" style="font-size:14.75px;letter-spacing:0.4px">20-29</text>
<line x1="911" x2="945.4" y1="80.75" y2="80.75" stroke="#2ca02c" stroke-width="2.80"/>
<circle cx="928.2" cy="80.75" r="3.30" fill="#2ca02c"/>
<text class="t" x="957.0" y="86.30" style="font-size:14.75px;letter-spacing:0.4px">30-39</text>
<line x1="911" x2="945.4" y1="103.75" y2="103.75" stroke="#d62728" stroke-width="2.80"/>
<circle cx="928.2" cy="103.75" r="3.30" fill="#d62728"/>
<text class="t" x="957.0" y="109.30" style="font-size:14.75px;letter-spacing:0.4px">40-49</text>
<line x1="911" x2="945.4" y1="126.75" y2="126.75" stroke="#9467bd" stroke-width="2.80"/>
<circle cx="928.2" cy="126.75" r="3.30" fill="#9467bd"/>
<text class="t" x="957.0" y="132.30" style="font-size:14.75px;letter-spacing:0.4px">50-59</text>
<line x1="911" x2="945.4" y1="149.75" y2="149.75" stroke="#8c564b" stroke-width="2.80"/>
<circle cx="928.2" cy="149.75" r="3.30" fill="#8c564b"/>
<text class="t" x="957.0" y="155.30" style="font-size:14.75px;letter-spacing:0.4px">60+</text>
<g id="logo">
<defs><linearGradient id="cg" x1="0" y1="0" x2="0" y2="1"><stop offset="0" stop-color="#a233a6"/><stop offset="0.45" stop-color="#a02a8c"/><stop offset="0.6" stop-color="#b0106a"/><stop offset="1" stop-color="#c00050"/></linearGradient></defs>
<rect x="790.4" y="689.6" width="32.9" height="32.7" rx="7" ry="7" fill="#0a2560"/>
<path d="M812.70 698.96 A9.06 9.06 0 1 0 812.70 713.04" fill="none" stroke="url(#cg)" stroke-width="2.88" stroke-linecap="butt"/>
<path d="M806.06 695.01 A11.00 11.00 0 1 0 806.06 716.99 A11.38 11.38 0 0 1 806.06 695.01 Z" fill="#1466c9"/>
<path d="M805.48 698.31 A7.56 7.56 0 0 0 805.48 713.44 A9.62 9.62 0 0 1 805.48 698.31 Z" fill="#25c6de"/>
<text class="logo" x="807.0" y="709.2" textLength="13.3" lengthAdjust="spacingAndGlyphs" style="font-size:8.8px;font-weight:bold;fill:#25c6de">-19</text>
<text class="logo" x="829.3" y="709.0" textLength="35.9" lengthAdjust="spacingAndGlyphs" style="font-size:12.2px;font-weight:bold;fill:#0f4a6b">COVID</text>
<text class="logo" x="868.4" y="709.0" textLength="85.4" lengthAdjust="spacingAndGlyphs" style="font-size:12.2px;fill:#2b6787">Symptom Study</text>
<rect x="959.9" y="697.2" width="46" height="16.4" rx="1.4" ry="1.4" fill="#f96f69"/>
<text class="logo" x="963.6" y="708.8" style="font-size:8.8px;fill:#fff;fill-opacity:0.92">by</text>
<text class="logo" x="975.6" y="708.9" textLength="25.6" lengthAdjust="spacingAndGlyphs" stroke="#fff" stroke-width="0.12" style="font-size:10.6px;fill:#fff;letter-spacing:1.4px">ZOE</text>
<text class="logo" x="1000.6" y="704.0" style="font-size:3.6px;fill:#fff;fill-opacity:0.85">®</text>
</g>
</svg></body></html>
